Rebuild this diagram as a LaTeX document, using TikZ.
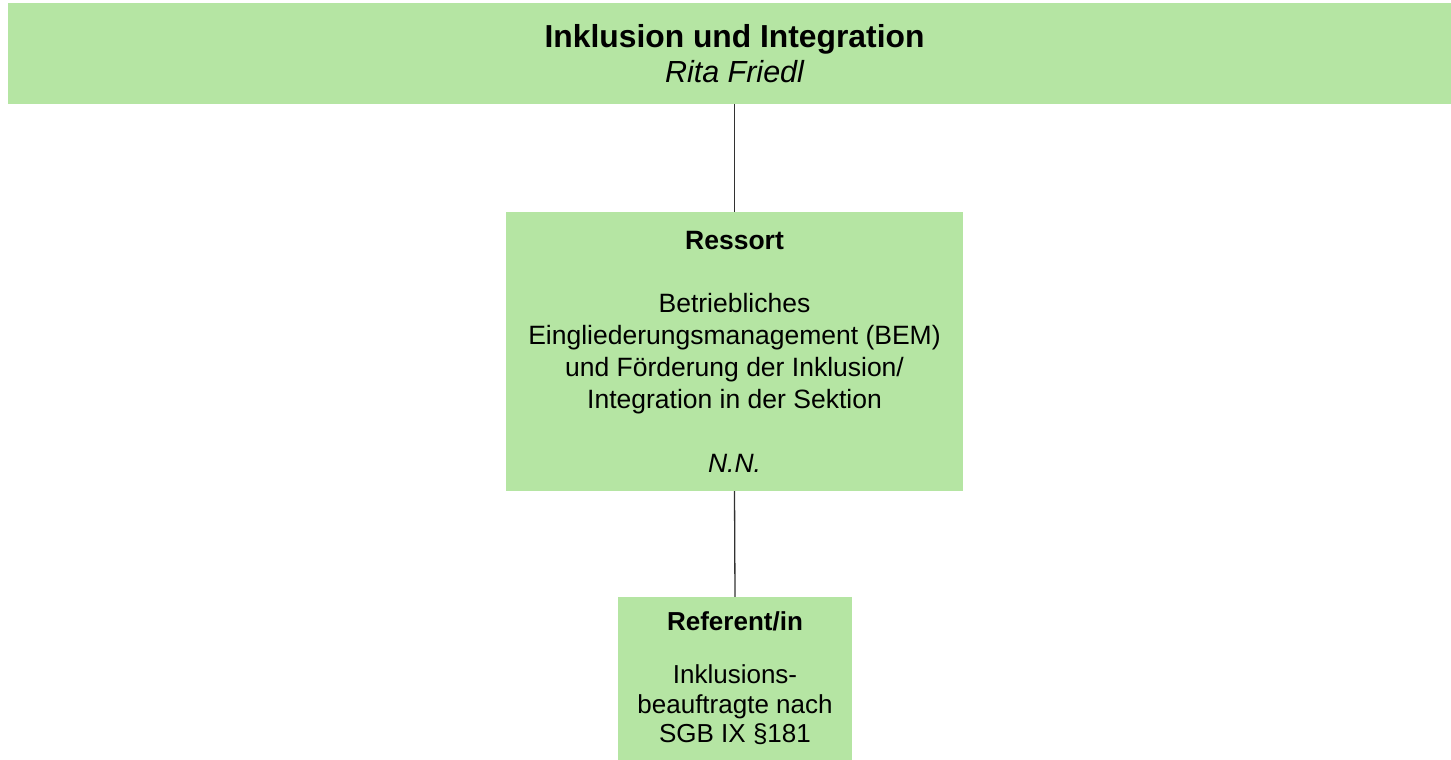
\documentclass[tikz,border=0pt]{standalone}
\usepackage{fontspec}
\setmainfont{Liberation Sans}
\definecolor{boxgreen}{RGB}{181,229,163}
\definecolor{linegray}{RGB}{50,50,50}
\begin{document}
\begin{tikzpicture}[x=1pt,y=-1pt,
  box/.style={fill=boxgreen, draw=none, inner sep=0pt, align=center},
  conn/.style={draw=linegray, line width=1.3pt}]
\useasboundingbox (0,0) rectangle (1451,760);
\node[box, minimum width=1453pt, minimum height=101pt, font=\fontsize{31}{35}\selectfont] (top) at (734.5,53.5)
  {{\fontsize{31.8}{35}\selectfont\bfseries Inklusion und Integration}\\{\fontsize{30.5}{35}\selectfont\itshape Rita Friedl}};
\node[box, minimum width=457pt, minimum height=279pt, font=\fontsize{26.5}{31.86}\selectfont] (mid) at (734.5,351.5)
  {{\bfseries Ressort}\\[31.86pt] Betriebliches\\ Eingliederungsmanagement (BEM)\\ und Förderung der Inklusion/\\ Integration in der Sektion\\[31.86pt] {\itshape N.N.}};
\node[box, minimum width=234pt, minimum height=163pt, font=\fontsize{26}{29.5}\selectfont] (ref) at (735,678.5)
  {{\bfseries Referent/in}\\[23.5pt] Inklusions-\\ beauftragte nach\\ SGB IX §181};
\draw[conn] (top.south) -- (mid.north);
\draw[conn] (mid.south) -- (ref.north);
\end{tikzpicture}
\end{document}
